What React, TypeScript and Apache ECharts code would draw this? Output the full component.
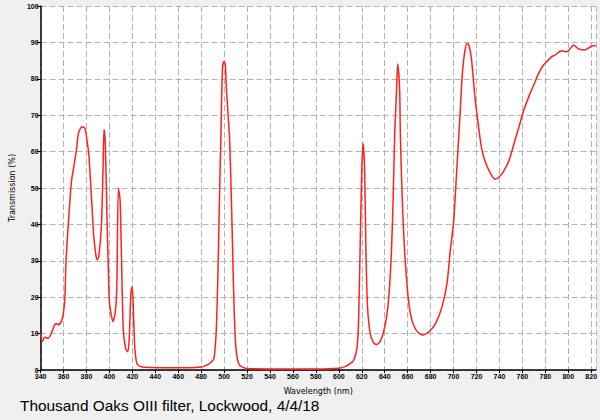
import React, { useEffect, useRef } from "react";
import * as echarts from "echarts";

const wavelengths: number[] = [
  340, 341.5, 343.7, 346.6, 349.4, 352.2, 353.7, 355.6, 358, 359.9, 361.2, 362.2, 365, 367, 369.3, 371.6, 373, 376, 378.7,
  380.8, 382.2, 384.5, 386.4, 388.5, 389.5, 390.7, 393, 394.5, 395.3, 396.4, 397.9, 399.3, 400.1, 401.6, 403, 405, 406.4,
  407.8, 409.3, 410.7, 412.1, 414.1, 415.8, 417.2, 418.7, 419.8, 420.6, 422.1, 424, 427.8, 436.4, 450, 470, 480, 484, 488,
  491, 493, 494.5, 496, 497.1, 498.5, 499.7, 501, 501.9, 503.5, 504.8, 506.5, 508, 509.5, 511, 513, 516, 520, 540, 560,
  580, 600, 606, 610, 613, 616, 617.3, 618.8, 620, 621, 622.4, 623.6, 625, 627.3, 630.2, 633, 635.9, 638.7, 641.6, 643.8,
  645.9, 647.3, 648.7, 650.2, 651.3, 653, 653.6, 655.3, 657.3, 660.1, 663, 667.3, 672.9, 678.6, 684.4, 690, 694.3, 697.2,
  700, 702.8, 705.7, 707.7, 710, 711.9, 713.4, 715.7, 718.6, 721.4, 724.2, 727.1, 731.4, 736.2, 740, 744.2, 748.5, 752.8,
  757, 761.3, 765.6, 769.9, 774.2, 778.4, 781.3, 785.5, 788.4, 794.1, 798.4, 801.2, 804.6, 808.4, 814, 818.3, 821.2, 824,
];

const transmission: number[] = [
  10.1, 7.8, 9.0, 8.7, 10.1, 12.4, 12.8, 12.4, 13.3, 15.6, 20, 30, 44, 52, 56.5, 61.3, 65, 66.8, 66.4,
  62.3, 58.6, 46.7, 36.6, 31, 30.3, 31.1, 39.4, 55.9, 66.1, 62.3, 42.1, 24.7, 18.3, 15.1, 13.3, 15.6, 22,
  49.9, 46.7, 28.4, 11, 6, 5, 8.2, 21, 22.9, 19.2, 6.4, 1.8, 0.9, 0.7, 0.6, 0.6, 0.8, 1.2, 2,
  3, 10, 25, 48, 63.2, 82.4, 84.7, 84, 77.8, 70, 63.2, 45, 25, 10, 4, 1.5, 0.8, 0.4, 0.3, 0.3,
  0.3, 0.5, 1, 1.8, 2.7, 6.4, 14.6, 37.5, 55, 62.3, 55.9, 33, 17.4, 10.1, 7.5, 7, 7.8, 10.1, 14.6, 21,
  33, 46.7, 65, 76, 84.1, 76.9, 65, 46.7, 33, 21, 14.6, 11, 9.6, 10.5, 12.8, 17.4, 23.8, 33,
  40.5, 55, 70.5, 81.5, 87.9, 89.7, 89.3, 85.2, 75.1, 67.8, 61.3, 57.7, 54.5, 52.4, 53.1, 54.9, 57.7, 62.3,
  66.8, 71.4, 75.1, 78.3, 81.5, 83.8, 84.7, 86.1, 86.5, 87.7, 87.4, 88.1, 89.3, 88.3, 87.9, 88.6, 89.1, 89.1,
];

const titleText = "Thousand Oaks OIII filter, Lockwood, 4/4/18";
const xAxisName = "Wavelength (nm)";
const yAxisName = "Transmission (%)";

export default function App() {
  const ref = useRef<HTMLDivElement>(null);
  useEffect(() => {
    if (!ref.current) return;
    const chart = echarts.init(ref.current, undefined, { renderer: "svg" });
    const gridLine = { show: true, lineStyle: { color: "#b4b4b4", type: [6, 3] as any, width: 1 } };
    const tickFont = { fontFamily: "'Liberation Sans', Arial, sans-serif", fontSize: 7, color: "#000", fontWeight: "bold" as const };
    chart.setOption({
      animation: false,
      backgroundColor: "#f0f0f0",
      title: {
        text: titleText,
        left: 20,
        top: 398,
        padding: 0,
        textStyle: { fontFamily: "'Liberation Sans', Arial, sans-serif", fontSize: 15.4, fontWeight: "normal", color: "#000" },
      },
      grid: { left: 34, right: 0, top: 6, bottom: 50, show: true, backgroundColor: "#ffffff", borderWidth: 0 },
      xAxis: {
        type: "value",
        min: 340,
        max: 824,
        interval: 20,
        name: xAxisName,
        nameLocation: "middle",
        nameGap: 17,
        nameTextStyle: { fontFamily: "'DejaVu Sans', sans-serif", fontSize: 8, color: "#000" },
        axisLine: { show: true, onZero: false, lineStyle: { color: "#000", width: 1.5 } },
        axisTick: { show: true, length: 3, lineStyle: { color: "#000" } },
        axisLabel: {
          ...tickFont,
          margin: 3,
          showMaxLabel: false,
          formatter: (v: number) => (v % 20 === 0 ? String(v) : ""),
        },
        splitLine: gridLine,
      },
      yAxis: {
        type: "value",
        min: 0,
        max: 100,
        interval: 10,
        name: yAxisName,
        nameLocation: "middle",
        nameGap: 24,
        nameTextStyle: { fontFamily: "'DejaVu Sans', sans-serif", fontSize: 8, color: "#000" },
        axisLine: { show: true, lineStyle: { color: "#000", width: 1.5 } },
        axisTick: { show: true, length: 4, lineStyle: { color: "#000" } },
        axisLabel: { ...tickFont, margin: 2 },
        splitLine: gridLine,
      },
      series: [
        {
          type: "line",
          data: wavelengths.map((w, i) => [w, transmission[i]]),
          showSymbol: false,
          symbol: "none",
          smooth: 0.25,
          lineStyle: { color: "#ff2020", width: 1.5 },
        },
      ],
    });
    return () => chart.dispose();
  }, []);
  return <div ref={ref} style={{ position: "fixed", left: 0, top: 0, width: 600, height: 420 }} />;
}
